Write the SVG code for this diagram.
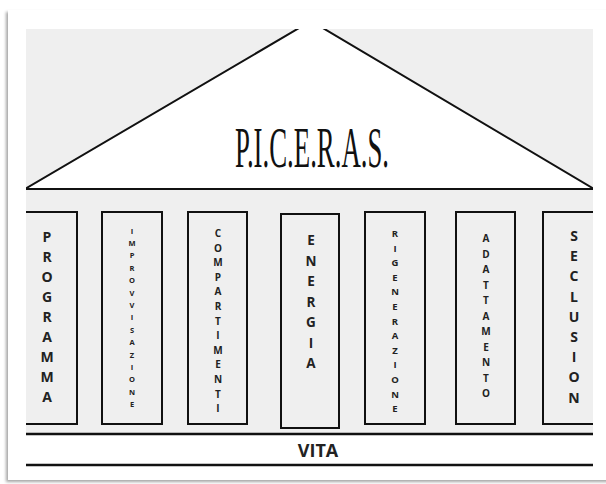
<svg xmlns="http://www.w3.org/2000/svg" width="606" height="484" viewBox="0 0 606 484">
<style>
.pil{fill:none;stroke:#111;stroke-width:2}
.ln{stroke:#111;stroke-width:2.5}
.t{font-family:"Open Sans","Liberation Sans",sans-serif;font-weight:bold;fill:#222;text-anchor:middle}
</style>
<defs>
<clipPath id="gc"><rect x="26" y="29" width="567" height="406"/></clipPath>
<filter id="sh" x="-5%" y="-5%" width="110%" height="110%"><feDropShadow dx="-2" dy="2" stdDeviation="1.8" flood-color="#000" flood-opacity="0.35"/></filter>
</defs>
<rect width="606" height="484" fill="#fff"/>
<rect x="8" y="10" width="620" height="470" fill="#fff" filter="url(#sh)"/>
<rect x="26" y="29" width="567" height="405" fill="#efefef"/>
<g clip-path="url(#gc)">
<g id="roof">
<polygon points="25,189 594,189 311,21" fill="#fff" stroke="#111" stroke-width="2"/>
<text x="312" y="167" font-family="Liberation Serif,serif" font-size="56" fill="#111" textLength="154" lengthAdjust="spacingAndGlyphs" text-anchor="middle">P.I.C.E.R.A.S.</text>
</g>
<g id="p1"><rect class="pil" x="17" y="212" width="60" height="212"/>
<text class="t" font-size="14"><tspan x="47" y="242">P</tspan><tspan x="47" dy="20">R</tspan><tspan x="47" dy="20">O</tspan><tspan x="47" dy="20">G</tspan><tspan x="47" dy="20">R</tspan><tspan x="47" dy="20">A</tspan><tspan x="47" dy="20">M</tspan><tspan x="47" dy="20">M</tspan><tspan x="47" dy="20">A</tspan></text></g>
<g id="p2"><rect class="pil" x="102" y="212" width="60" height="212"/>
<text class="t" font-size="7.5"><tspan x="132" y="233.5">I</tspan><tspan x="132" dy="12.4">M</tspan><tspan x="132" dy="12.4">P</tspan><tspan x="132" dy="12.4">R</tspan><tspan x="132" dy="12.4">O</tspan><tspan x="132" dy="12.4">V</tspan><tspan x="132" dy="12.4">V</tspan><tspan x="132" dy="12.4">I</tspan><tspan x="132" dy="12.4">S</tspan><tspan x="132" dy="12.4">A</tspan><tspan x="132" dy="12.4">Z</tspan><tspan x="132" dy="12.4">I</tspan><tspan x="132" dy="12.4">O</tspan><tspan x="132" dy="12.4">N</tspan><tspan x="132" dy="12.4">E</tspan></text></g>
<g id="p3"><rect class="pil" x="188" y="212" width="59" height="212"/>
<text class="t" font-size="10"><tspan x="218" y="237">C</tspan><tspan x="218" dy="14.6">O</tspan><tspan x="218" dy="14.6">M</tspan><tspan x="218" dy="14.6">P</tspan><tspan x="218" dy="14.6">A</tspan><tspan x="218" dy="14.6">R</tspan><tspan x="218" dy="14.6">T</tspan><tspan x="218" dy="14.6">I</tspan><tspan x="218" dy="14.6">M</tspan><tspan x="218" dy="14.6">E</tspan><tspan x="218" dy="14.6">N</tspan><tspan x="218" dy="14.6">T</tspan><tspan x="218" dy="14.6">I</tspan></text></g>
<g id="p4"><rect class="pil" x="281" y="214" width="58" height="214"/>
<text class="t" font-size="13.5"><tspan x="311" y="245">E</tspan><tspan x="311" dy="20.5">N</tspan><tspan x="311" dy="20.5">E</tspan><tspan x="311" dy="20.5">R</tspan><tspan x="311" dy="20.5">G</tspan><tspan x="311" dy="20.5">I</tspan><tspan x="311" dy="20.5">A</tspan></text></g>
<g id="p5"><rect class="pil" x="365" y="212" width="60" height="212"/>
<text class="t" font-size="9.5"><tspan x="395" y="237">R</tspan><tspan x="395" dy="14.6">I</tspan><tspan x="395" dy="14.6">G</tspan><tspan x="395" dy="14.6">E</tspan><tspan x="395" dy="14.6">N</tspan><tspan x="395" dy="14.6">E</tspan><tspan x="395" dy="14.6">R</tspan><tspan x="395" dy="14.6">A</tspan><tspan x="395" dy="14.6">Z</tspan><tspan x="395" dy="14.6">I</tspan><tspan x="395" dy="14.6">O</tspan><tspan x="395" dy="14.6">N</tspan><tspan x="395" dy="14.6">E</tspan></text></g>
<g id="p6"><rect class="pil" x="456" y="212" width="59" height="212"/>
<text class="t" font-size="10"><tspan x="486" y="242">A</tspan><tspan x="486" dy="15.5">D</tspan><tspan x="486" dy="15.5">A</tspan><tspan x="486" dy="15.5">T</tspan><tspan x="486" dy="15.5">T</tspan><tspan x="486" dy="15.5">A</tspan><tspan x="486" dy="15.5">M</tspan><tspan x="486" dy="15.5">E</tspan><tspan x="486" dy="15.5">N</tspan><tspan x="486" dy="15.5">T</tspan><tspan x="486" dy="15.5">O</tspan></text></g>
<g id="p7"><rect class="pil" x="543" y="212" width="60" height="212"/>
<text class="t" font-size="14"><tspan x="574" y="241">S</tspan><tspan x="574" dy="20.2">E</tspan><tspan x="574" dy="20.2">C</tspan><tspan x="574" dy="20.2">L</tspan><tspan x="574" dy="20.2">U</tspan><tspan x="574" dy="20.2">S</tspan><tspan x="574" dy="20.2">I</tspan><tspan x="574" dy="20.2">O</tspan><tspan x="574" dy="20.2">N</tspan></text></g>
</g>
<g id="base">
<line class="ln" x1="26" y1="434" x2="593" y2="434"/>
<line class="ln" x1="26" y1="465" x2="593" y2="465"/>
<text class="t" x="318" y="457" font-size="18" fill="#111">VITA</text>
</g>
</svg>
